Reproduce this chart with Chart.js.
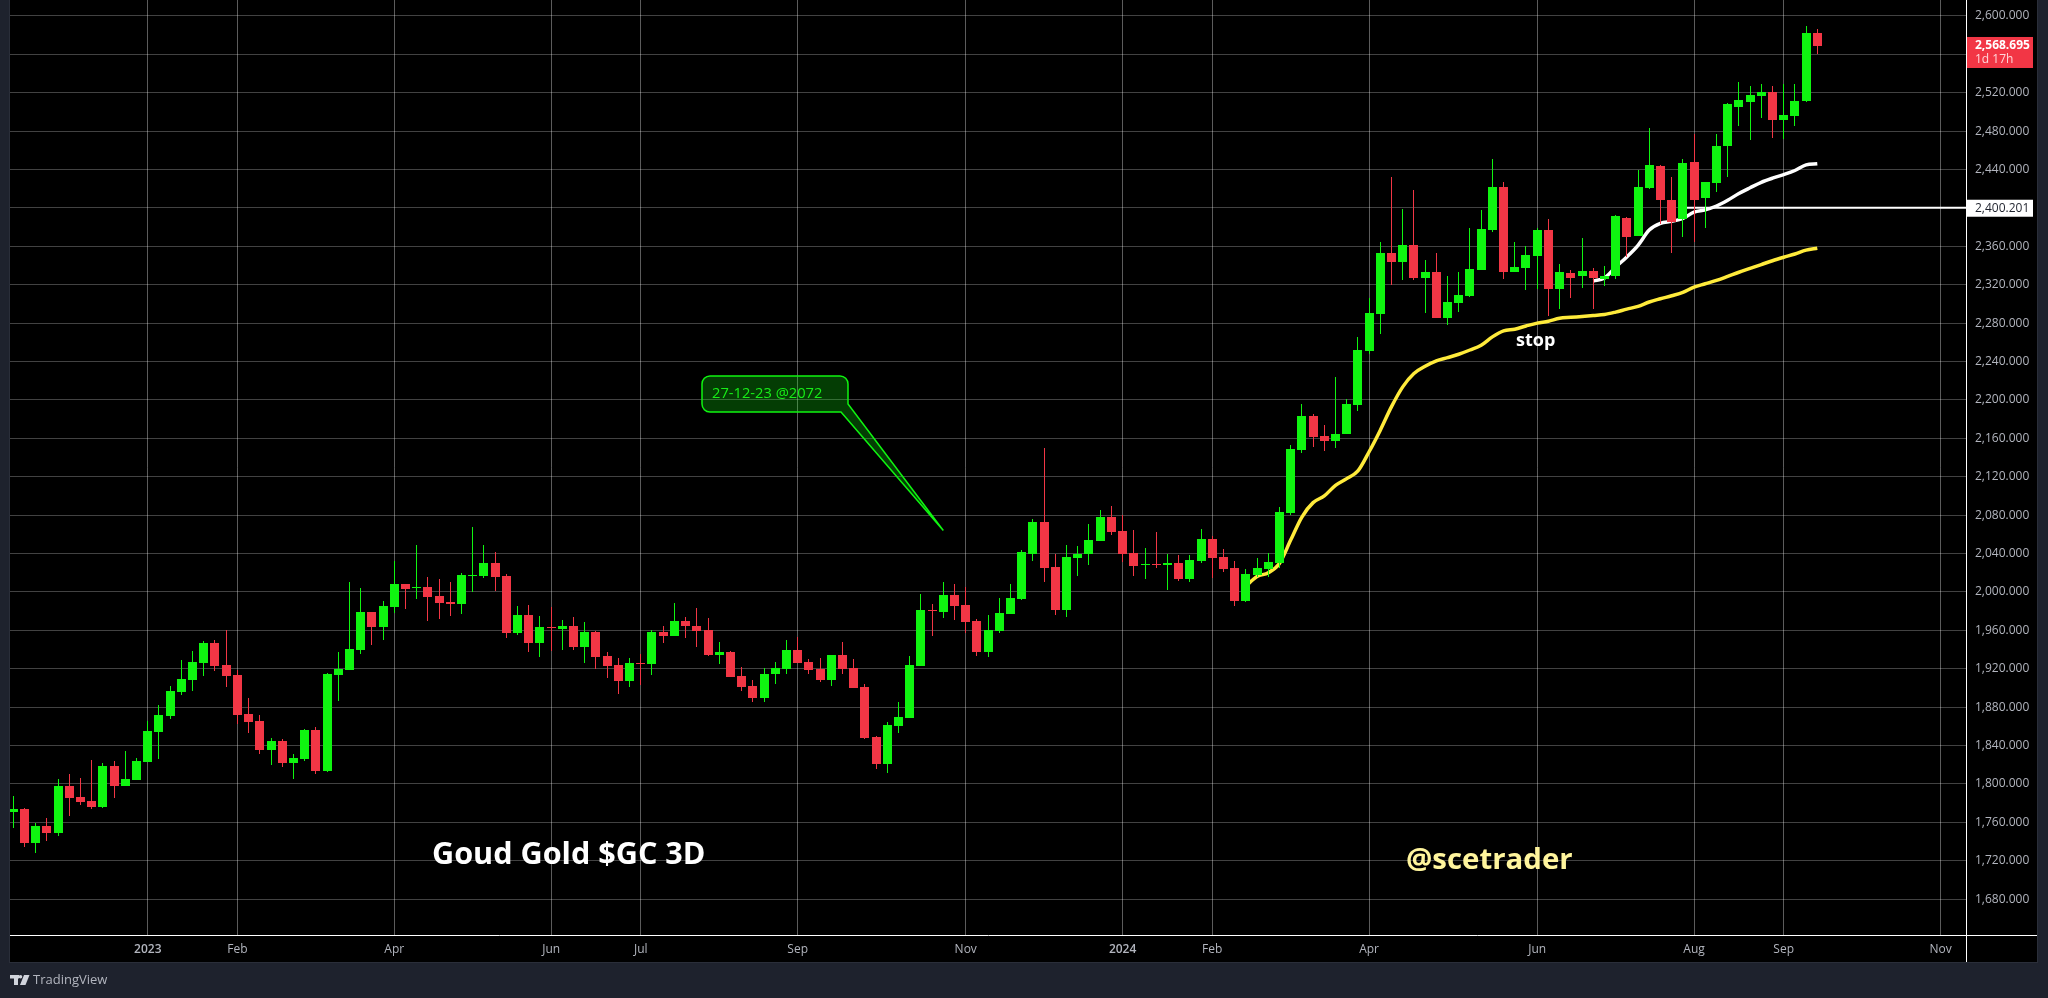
<!DOCTYPE html>
<html>
<head>
<meta charset="utf-8">
<title>Goud Gold $GC 3D</title>
<script src="https://cdn.jsdelivr.net/npm/chart.js@4"></script>
<style>
html, body { margin: 0; padding: 0; background: #1e222d; overflow: hidden; }
#chart_wrap { position: absolute; left: 0; top: 0; width: 2048px; height: 998px; }
</style>
</head>
<body>
<div id="chart_wrap"><canvas id="chart_canvas"></canvas></div>
<script>
// one value per 3D bar
const opens = [
  1771, 1774, 1738, 1756, 1749, 1798, 1786, 1782, 1776, 1819, 1798, 1804, 1823, 1854, 1871, 1896, 1908, 1926,
  1947, 1924, 1913.5, 1873, 1865.5, 1835, 1845, 1822, 1826, 1856, 1813.5, 1913.5, 1919, 1939.5, 1979, 1963.5,
  1984, 2008, 2004, 2005, 1996, 1989.5, 1987, 2016.6, 2016.6, 2030, 2016.4, 1957, 1976, 1946.6, 1963, 1961,
  1965, 1942.4, 1958, 1933, 1924, 1907, 1926, 1925, 1958, 1954, 1969.5, 1965, 1960, 1934, 1937, 1912,
  1902, 1889, 1914, 1919.5, 1940, 1927, 1919.5, 1908, 1934, 1920.6, 1901, 1849, 1820.6, 1860, 1868.5, 1923,
  1981, 1979, 1997, 1986, 1969.5, 1937.4, 1959, 1977, 1992.4, 2040, 2072.6, 2026, 1981, 2035, 2039, 2053,
  2078, 2063, 2041, 2028, 2029, 2028, 2030, 2013, 2032, 2055, 2036, 2025, 1991, 2017.6, 2024, 2030,
  2082, 2147.6, 2183, 2162, 2157, 2164, 2194.5, 2251, 2290, 2353, 2343.5, 2361, 2327, 2333, 2285, 2301,
  2308, 2335, 2377, 2421.6, 2333, 2337, 2350, 2377, 2316, 2332.6, 2329.5, 2334, 2326.4, 2329.5, 2390, 2371,
  2421, 2444, 2408.7, 2388, 2448, 2410.8, 2426.4, 2465, 2505.6, 2510.8, 2517, 2521, 2492, 2496, 2511.8, 2582.6
];
const highs = [
  1787, 1775, 1759, 1764.5, 1805, 1810, 1806, 1825, 1822, 1824, 1834, 1827, 1866, 1882, 1902, 1929, 1938, 1949,
  1950, 1960, 1919, 1890, 1872, 1848, 1847, 1831, 1857, 1859, 1915.5, 1937, 2010, 2004, 1979, 1990.5,
  2032, 2008, 2049, 2015.5, 2013.5, 2010, 2020, 2068, 2049, 2041.6, 2018.5, 1985, 1986, 1975, 1984, 1970.6,
  1974, 1968.5, 1959, 1937, 1931, 1931, 1935, 1960, 1964, 1988, 1974, 1983, 1973, 1948, 1938, 1922,
  1908, 1920.6, 1927, 1950, 1953, 1930, 1931, 1934, 1948, 1930, 1904, 1850, 1864, 1885, 1933, 1998,
  1987, 2010, 2008, 2005, 1971.6, 1976, 1993.5, 2008, 2043.5, 2076, 2150, 2040, 2048.7, 2047.6, 2070.5, 2085,
  2089, 2080, 2064, 2045.5, 2062, 2039, 2038, 2038, 2066, 2058, 2044.5, 2032, 2024, 2035, 2041, 2088,
  2153, 2195.6, 2185, 2174, 2223.7, 2201, 2266, 2306, 2365, 2432, 2398.7, 2418.5, 2345.5, 2353, 2329, 2333,
  2379, 2397.6, 2451, 2427, 2364, 2360, 2379, 2388, 2342, 2335, 2369, 2337, 2340, 2393, 2391, 2440,
  2483.7, 2445, 2432.6, 2451, 2477, 2427.4, 2477, 2509, 2531.6, 2527, 2529.5, 2527, 2529.5, 2529.5, 2590, 2586.8
];
const lows = [
  1754, 1734, 1728, 1741, 1746, 1767, 1778, 1774, 1775, 1785, 1798, 1804, 1823, 1826, 1868, 1893, 1897, 1912,
  1918, 1901, 1862, 1853, 1831, 1820, 1818, 1805, 1824, 1810, 1812, 1886, 1919, 1935, 1945, 1950,
  1978, 1982, 1993, 1970, 1972, 1975, 1977, 2000, 2014.5, 2001, 1952, 1955, 1937, 1932, 1938, 1940,
  1940, 1926, 1919.5, 1910, 1893.5, 1901, 1903, 1913, 1946.6, 1954, 1952, 1942.4, 1933, 1925, 1911, 1897,
  1885, 1885, 1904, 1914, 1926, 1915, 1906, 1902, 1914, 1900, 1847, 1815.4, 1811, 1853, 1868.5, 1923,
  1954, 1973, 1970.6, 1957, 1933.6, 1932.6, 1957, 1977, 1991.4, 2032, 2010, 1976, 1973.6, 2016.4, 2028, 2053,
  2059, 2031, 2017, 2013, 2025, 2002, 2011, 2010, 2030, 2015, 2020.5, 1985, 1990, 2016, 2016, 2025,
  2080, 2144.5, 2151, 2146.6, 2150, 2164, 2188, 2248, 2268.5, 2319.5, 2325, 2325, 2291, 2285, 2278, 2292,
  2307, 2335, 2375, 2326, 2333, 2315, 2316, 2287, 2295, 2306.6, 2317, 2294.3, 2319, 2326.4, 2349, 2371,
  2420, 2383.7, 2353.5, 2370, 2365, 2379.5, 2417, 2432.6, 2485.8, 2471, 2494, 2473, 2472, 2485.8, 2510.8, 2560.8
];
const closes = [
  1774, 1738, 1756, 1749, 1798, 1785, 1781, 1776, 1819, 1798, 1805, 1824, 1855, 1872, 1897, 1909, 1927, 1947,
  1923, 1912, 1872, 1864.5, 1835, 1845, 1822, 1827, 1856, 1813.5, 1914.5, 1920, 1940.5, 1979, 1963.5, 1985,
  2008, 2003, 2005, 1995, 1988.5, 1987, 2018, 2018, 2030, 2015.6, 1957, 1976, 1946.6, 1963, 1962, 1965,
  1942.4, 1958, 1932, 1923, 1907, 1926, 1925, 1958, 1954, 1969.5, 1964, 1959, 1934, 1937, 1911, 1901,
  1889, 1915, 1920.6, 1940, 1926, 1918.5, 1908, 1934, 1919.5, 1900, 1848, 1820.6, 1861, 1869.5, 1924, 1981,
  1980, 1997, 1985, 1968.5, 1937.6, 1960, 1978, 1993.5, 2041.4, 2072.6, 2025, 1981, 2036, 2040, 2054, 2078,
  2062, 2040, 2027, 2029, 2028, 2030, 2013, 2033, 2055, 2035, 2024, 1991, 2018.5, 2025, 2031, 2083,
  2149, 2183, 2161, 2157, 2165, 2195.6, 2252, 2291, 2353, 2343.5, 2361, 2327, 2333, 2285, 2302, 2309,
  2336, 2378, 2421.6, 2333, 2338, 2351, 2377, 2316, 2333, 2327.4, 2334.7, 2326.6, 2329.5, 2392, 2370, 2422,
  2445, 2408.7, 2385.8, 2447, 2408.7, 2427.4, 2465, 2508.7, 2512.8, 2518, 2521, 2492, 2497, 2511.8, 2582.6, 2568.7
];

// the two hand drawn averages, they start late so each one has its first bar
const yellow_first_bar = 111;
const yellow_ma = [
  2006, 2016, 2020, 2029.6, 2054, 2078, 2093, 2100, 2111, 2118, 2126, 2146, 2168.5, 2193, 2213.6, 2227.5,
  2235, 2240.7, 2244, 2247.6, 2252, 2257, 2265.7, 2272, 2273.7, 2277, 2280, 2282, 2285, 2286, 2287, 2288,
  2289, 2291.5, 2294.6, 2297.4, 2302, 2305.4, 2308.5, 2312, 2317.6, 2321, 2324.5, 2328.7, 2333, 2337, 2341,
  2345, 2348.6, 2352, 2356, 2358
];
const white_first_bar = 142;
const white_ma = [
  2323.8, 2327, 2338.4, 2349, 2361, 2377, 2384, 2386, 2389, 2395.7, 2398, 2402, 2408, 2415, 2421, 2426.7,
  2431, 2434.7, 2439, 2444.8, 2446
];
const stop_first_bar = 150;
const stop_level = 2400.201;

const price_ticks = [
  1680, 1720, 1760, 1800, 1840, 1880, 1920, 1960, 2000, 2040, 2080, 2120, 2160, 2200, 2240, 2280, 2320,
  2360, 2400, 2440, 2480, 2520, 2560, 2600
];
const hidden_price_ticks = [2400, 2560]; // the price tags sit on these
const time_bars = [13, 21, 35, 49, 57, 71, 86, 100, 108, 122, 137, 151, 159, 173];
const time_labels = ["2023", "Feb", "Apr", "Jun", "Jul", "Sep", "Nov", "2024", "Feb", "Apr", "Jun", "Aug", "Sep", "Nov"];

const last_close = 2568.695;
const callout_bar = 84;
const callout_price = 2064;

const green = "#0ff510";
const red = "#f23645";
const axis_text = "#b2b5be";
const ui_font = '"Open Sans", sans-serif';

// build the chart rows
let wick_rows = [];
let body_rows = [];
let bar_colors = [];
for (let i = 0; i < opens.length; i++) {
  wick_rows.push({x: i + 1, y: [lows[i], highs[i]]});
  body_rows.push({x: i + 1, y: [opens[i], closes[i]]});
  bar_colors.push(closes[i] >= opens[i] ? green : red);
}
function line_rows(first_bar, values) {
  return values.map((v, i) => ({x: first_bar + i, y: v}));
}
const x_min = 0.705;
const x_max = 175.27;

// snap the bars to whole pixels or the wicks go blurry
const snap_bars = {
  id: "snap_bars",
  beforeDatasetsDraw(chart) {
    for (let meta of chart.getSortedVisibleDatasetMetas()) {
      if (meta.type != "bar") continue;
      for (let el of meta.data) {
        el.x = Math.floor(el.x) + 0.5;
        el.y = Math.round(el.y);
        el.base = Math.round(el.base);
        if (el.y == el.base) el.base = el.y + 1;
      }
    }
  }
};

// black panel behind everything
const panel = {
  id: "panel",
  beforeDraw(chart) {
    let ctx = chart.ctx;
    ctx.save();
    ctx.fillStyle = "#000000";
    ctx.fillRect(10, 0, 2027, 962);
    ctx.fillStyle = "#2a2e39";
    ctx.fillRect(9, 0, 1, 963);
    ctx.fillRect(9, 962, 2029, 1);
    ctx.fillRect(2037, 0, 1, 963);
    ctx.restore();
  }
};

function draw_callout(chart) {
  let ctx = chart.ctx;
  let tip_x = chart.scales.x.getPixelForValue(callout_bar);
  let tip_y = chart.scales.y.getPixelForValue(callout_price);
  let left = 702, right = 848, top = 376, bottom = 412, r = 8;
  ctx.beginPath();
  ctx.moveTo(left + r, top);
  ctx.lineTo(right - r, top);
  ctx.arcTo(right, top, right, top + r, r);
  ctx.lineTo(right, 404);
  ctx.lineTo(tip_x, tip_y);
  ctx.lineTo(841, bottom);
  ctx.lineTo(left + r, bottom);
  ctx.arcTo(left, bottom, left, bottom - r, r);
  ctx.lineTo(left, top + r);
  ctx.arcTo(left, top, left + r, top, r);
  ctx.closePath();
  ctx.fillStyle = "rgba(15, 245, 16, 0.25)";
  ctx.fill();
  ctx.strokeStyle = green;
  ctx.lineWidth = 1.5;
  ctx.stroke();
  ctx.fillStyle = "#18ee18";
  ctx.font = "14.7px " + ui_font;
  ctx.textAlign = "left";
  ctx.textBaseline = "middle";
  ctx.fillText("27-12-23 @2072", 712, 394);
}

function draw_logo(ctx) {
  ctx.fillStyle = "#d1d4dc";
  ctx.fillRect(10, 975, 9, 3.5);
  ctx.fillRect(14, 975, 4, 10);
  ctx.beginPath();
  ctx.arc(20.5, 976.8, 1.8, 0, Math.PI * 2);
  ctx.fill();
  ctx.beginPath();
  ctx.moveTo(24, 975);
  ctx.lineTo(29.5, 975);
  ctx.lineTo(25.5, 985);
  ctx.lineTo(20, 985);
  ctx.closePath();
  ctx.fill();
  ctx.fillStyle = axis_text;
  ctx.font = "13px " + ui_font;
  ctx.textAlign = "left";
  ctx.textBaseline = "middle";
  ctx.fillText("TradingView", 33, 980.5);
}

// all the stuff on top: tags, texts, callout
const overlays = {
  id: "overlays",
  afterDraw(chart) {
    let ctx = chart.ctx;
    let y = chart.scales.y;
    ctx.save();

    // axis lines run on past the plot
    ctx.fillStyle = "#ffffff";
    ctx.fillRect(1966, 935, 1, 27);
    ctx.fillRect(1966, 935, 71, 1);

    draw_callout(chart);

    ctx.textAlign = "left";
    ctx.textBaseline = "middle";
    ctx.fillStyle = "#ffffff";
    ctx.font = "bold 30.6px " + ui_font;
    ctx.fillText("Goud Gold $GC 3D", 432, 855);
    ctx.fillStyle = "#fff59d";
    ctx.font = "bold 29.4px " + ui_font;
    ctx.fillText("@scetrader", 1406, 861);
    ctx.fillStyle = "#ffffff";
    ctx.font = "bold 18px " + ui_font;
    ctx.fillText("stop", 1516, 341);

    // last price tag
    let close_y = y.getPixelForValue(last_close);
    ctx.fillStyle = red;
    ctx.fillRect(1967, close_y - 9, 66, 31);
    ctx.fillStyle = "#ffffff";
    ctx.font = "bold 12px " + ui_font;
    ctx.fillText("2,568.695", 1975, close_y);
    ctx.fillStyle = "#ffd5d9";
    ctx.font = "12px " + ui_font;
    ctx.fillText("1d 17h", 1975, close_y + 14);

    // stop level tag
    let stop_y = y.getPixelForValue(stop_level);
    ctx.fillStyle = "#ffffff";
    ctx.fillRect(1967, stop_y - 8, 66, 17);
    ctx.fillStyle = "#1e222d";
    ctx.font = "12px " + ui_font;
    ctx.fillText("2,400.201", 1975, stop_y + 0.5);

    draw_logo(ctx);
    ctx.restore();
  }
};

// le chart
const chart = new Chart(document.getElementById("chart_canvas").getContext("2d"), {
  type: "bar",
  data: {
    datasets: [
      {
        label: "body",
        data: body_rows,
        backgroundColor: bar_colors,
        barThickness: 9,
        grouped: false,
        inflateAmount: 0,
        order: 1
      },
      {
        label: "wick",
        data: wick_rows,
        backgroundColor: bar_colors,
        barThickness: 1,
        grouped: false,
        inflateAmount: 0,
        order: 2
      },
      {
        type: "line",
        label: "yellow",
        data: line_rows(yellow_first_bar, yellow_ma),
        borderColor: "#ffeb3b",
        borderWidth: 3.5,
        pointRadius: 0,
        cubicInterpolationMode: "monotone",
        order: 3
      },
      {
        type: "line",
        label: "white",
        data: line_rows(white_first_bar, white_ma),
        borderColor: "#ffffff",
        borderWidth: 3.5,
        pointRadius: 0,
        cubicInterpolationMode: "monotone",
        order: 3
      },
      {
        type: "line",
        label: "stop",
        data: [{x: stop_first_bar, y: stop_level}, {x: x_max, y: stop_level}],
        borderColor: "#ffffff",
        borderWidth: 2,
        pointRadius: 0,
        order: 4
      }
    ]
  },
  options: {
    responsive: true,
    maintainAspectRatio: false,
    animation: false,
    events: [],
    layout: {autoPadding: false, padding: {left: 10, top: 0, right: 0, bottom: 0}},
    plugins: {legend: {display: false}, tooltip: {enabled: false}},
    scales: {
      x: {
        type: "linear",
        min: x_min,
        max: x_max,
        offset: false,
        afterBuildTicks(scale) {
          scale.ticks = time_bars.map(b => ({value: b}));
        },
        afterFit(scale) {
          scale.height = 63;
          scale.paddingLeft = 0;
          scale.paddingRight = 0;
        },
        grid: {
          offset: false,
          color: "rgba(255, 255, 255, 0.36)",
          drawTicks: false
        },
        border: {color: "#ffffff", width: 1},
        ticks: {
          maxRotation: 0,
          autoSkip: false,
          padding: 7,
          color: axis_text,
          font: ctx => ({
            family: ui_font,
            size: 12,
            weight: ctx.tick && /^\d/.test(ctx.tick.label) ? "600" : "400"
          }),
          callback: v => time_labels[time_bars.indexOf(v)]
        }
      },
      y: {
        type: "linear",
        position: "right",
        min: 1642.6,
        max: 2616.6,
        beginAtZero: false,
        afterBuildTicks(scale) {
          scale.ticks = price_ticks.map(p => ({value: p}));
        },
        afterFit(scale) {
          scale.width = 82;
          scale.paddingTop = 0;
          scale.paddingBottom = 0;
        },
        grid: {
          color: "rgba(255, 255, 255, 0.26)",
          drawTicks: false
        },
        border: {color: "#ffffff", width: 1},
        ticks: {
          padding: 9,
          align: "center",
          crossAlign: "near",
          color: axis_text,
          font: {family: ui_font, size: 12},
          callback: function(v) {
            if (hidden_price_ticks.includes(v)) return "";
            return v.toLocaleString("en-US", {minimumFractionDigits: 3, maximumFractionDigits: 3});
          }
        }
      }
    }
  },
  plugins: [panel, snap_bars, overlays]
});
</script>
</body>
</html>
